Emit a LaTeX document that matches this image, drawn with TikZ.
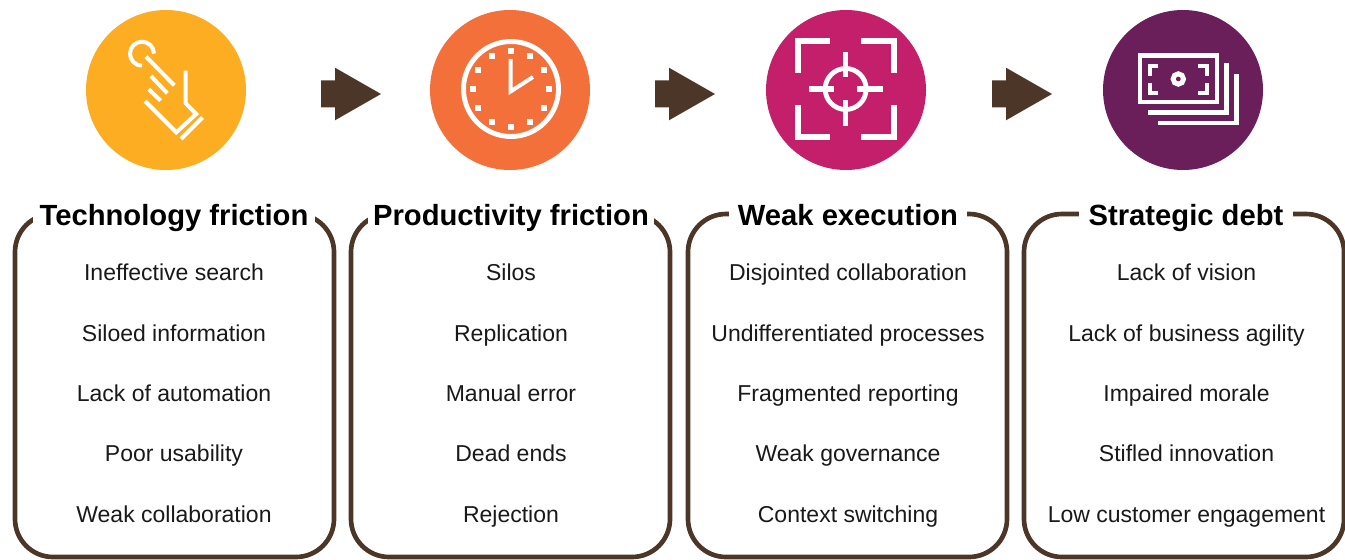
\documentclass[tikz,border=0pt]{standalone}
\usepackage{fontspec}
\setmainfont{Liberation Sans}
\definecolor{brn}{HTML}{4B3628}
\definecolor{cA}{HTML}{FDAD22}
\definecolor{cB}{HTML}{F4703A}
\definecolor{cC}{HTML}{C41F6B}
\definecolor{cD}{HTML}{6A1F5B}
\tikzset{
  panel/.style={draw=brn,line width=3.5pt,rounded corners=28.5pt},
  disc/.style={circle,minimum size=120pt,inner sep=0pt},
  titlelab/.style={anchor=base,fill=white,inner ysep=0pt,inner xsep=#1,font=\fontsize{21.9pt}{24pt}\selectfont\bfseries},
  itemlab/.style={anchor=base,inner sep=0pt,font=\fontsize{17.25pt}{20pt}\selectfont,text=black!90},
  glyph/.style={draw=white,line width=#1,line cap=butt,line join=miter},
  flow/.style={fill=brn,draw=none}
}
\newcommand{\flowarrow}[2]{%
  \fill[flow,shift={(#1,0)}] (321,80.5) -- (335,80.5) -- (335,67.7) -- (381,94) -- (335,120.3) -- (335,107.3) -- (321,107.3) -- cycle;}
\begin{document}
\begin{tikzpicture}[x=0.75pt,y=-0.75pt]
\useasboundingbox (0,0) rectangle (1345,560);
% discs
\node[disc,fill=cA] (d1) at (166,90) {};
\node[disc,fill=cB] (d2) at (510,90) {};
\node[disc,fill=cC] (d3) at (846,90) {};
\node[disc,fill=cD] (d4) at (1183,90) {};
% arrows
\flowarrow{0}{a}
\flowarrow{334}{b}
\flowarrow{671}{c}
% hand icon
\draw[glyph=3pt] (154,53.7) arc[start angle=0,end angle=-270,radius=12];
\draw[glyph=3pt] (146,56.7) -- (174.3,85.3);
\draw[glyph=3pt] (151,76) -- (167.3,93.3);
\draw[glyph=3pt] (148.7,89.3) -- (160.7,100.7);
\draw[glyph=3pt] (185.7,70.7) -- (185.7,103.3) -- (196.2,114) -- (176.3,132.3) -- (145,101);
\draw[glyph=3pt] (202.5,117.5) -- (181,139);
% clock icon
\draw[glyph=3.7pt] (511,89) circle[radius=47.5];
\foreach \k in {0,30,...,330}
  \fill[white] ({511+38*cos(\k)},{89+38*sin(\k)}) ++(-2.6,-2.6) rectangle ++(5.2,5.2);
\draw[glyph=3pt] (510.5,59) -- (510.5,91.5) -- (533,77);
% target icon
\draw[glyph=4.2pt] (830,41) -- (797.8,41) -- (797.8,73.3);
\draw[glyph=4.2pt] (861,41) -- (893.9,41) -- (893.9,73.3);
\draw[glyph=4.2pt] (797.8,105) -- (797.8,137) -- (830,137);
\draw[glyph=4.2pt] (893.9,105) -- (893.9,137) -- (861,137);
\draw[glyph=3.6pt] (845.7,89) circle[radius=20.5];
\draw[glyph=4pt] (845.7,52.3) -- (845.7,77.3);
\draw[glyph=4pt] (845.7,100) -- (845.7,126);
\draw[glyph=4pt] (809,89) -- (834,89);
\draw[glyph=4pt] (857.3,89) -- (883,89);
% money icon
\draw[glyph=3.3pt] (1139.8,55.5) rectangle (1216.8,102.2);
\draw[glyph=3.3pt] (1226.3,63.3) -- (1226.3,112.3) -- (1148.3,112.3);
\draw[glyph=3.3pt] (1236.3,74) -- (1236.3,122.7) -- (1158.3,122.7);
\draw[glyph=3pt] (1158.3,66.3) -- (1150.3,66.3) -- (1150.3,76);
\draw[glyph=3pt] (1198.3,66.3) -- (1206.7,66.3) -- (1206.7,76);
\draw[glyph=3pt] (1158.3,92.7) -- (1150.3,92.7) -- (1150.3,83.3);
\draw[glyph=3pt] (1198.3,92.7) -- (1206.7,92.7) -- (1206.7,83.3);
\draw[glyph=3.7pt] (1178.3,79) circle[radius=5.2];
% panels
\draw[panel] (15,214) rectangle (334,557);
\draw[panel] (351,214) rectangle (670,557);
\draw[panel] (688,214) rectangle (1007,557);
\draw[panel] (1024,214) rectangle (1344,557);
% titles
\node[titlelab=5pt] (t1) at (174,225) {Technology friction};
\node[titlelab=3.5pt] (t2) at (511,225) {Productivity friction};
\node[titlelab=7pt] (t3) at (848,225) {Weak execution};
\node[titlelab=7pt] (t4) at (1186,225) {Strategic debt};
% items
\foreach \nm/\cx/\a/\b/\c/\d/\e in {
  p/174/Ineffective search/Siloed information/Lack of automation/Poor usability/Weak collaboration,
  q/511/Silos/Replication/Manual error/Dead ends/Rejection,
  r/848/Disjointed collaboration/Undifferentiated processes/Fragmented reporting/Weak governance/Context switching,
  s/1186.5/Lack of vision/Lack of business agility/Impaired morale/Stifled innovation/Low customer engagement}{
  \node[itemlab] (\nm1) at (\cx,280.5) {\a};
  \node[itemlab] (\nm2) at (\cx,341.5) {\b};
  \node[itemlab] (\nm3) at (\cx,401.5) {\c};
  \node[itemlab] (\nm4) at (\cx,461.5) {\d};
  \node[itemlab] (\nm5) at (\cx,522.5) {\e};
}
\end{tikzpicture}
\end{document}
